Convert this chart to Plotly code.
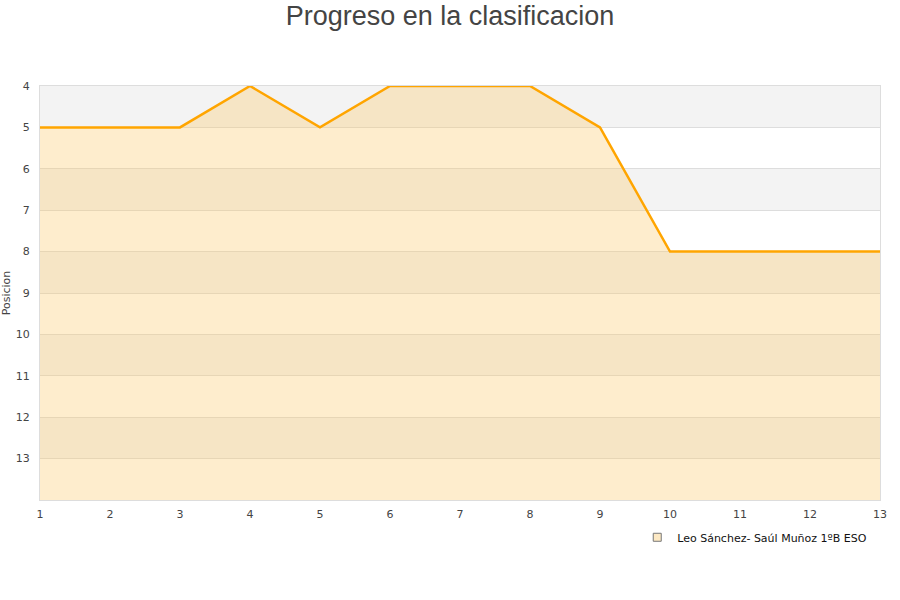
import plotly.graph_objects as go

# jornadas y posicion en la clasificacion
jornadas = [1, 2, 3, 4, 5, 6, 7, 8, 9, 10, 11, 12, 13]
posicion = [5, 5, 5, 4, 5, 4, 4, 4, 5, 8, 8, 8, 8]
fondo = [14] * len(jornadas)
equipo = "Leo Sánchez- Saúl Muñoz 1ºB ESO"
y_ticks = [4, 5, 6, 7, 8, 9, 10, 11, 12, 13]

fig = go.Figure()

# fondo con bandas alternas
shapes = []
for v in range(4, 14, 2):
    shapes.append(dict(type="rect", xref="paper", yref="y", x0=0, x1=1,
                       y0=v, y1=v + 1, fillcolor="#f3f3f3",
                       line=dict(width=0), layer="below"))

# base invisible para rellenar hasta abajo
fig.add_trace(go.Scatter(
    x=jornadas, y=fondo, mode="lines", line=dict(width=0),
    showlegend=False, hoverinfo="skip"))

fig.add_trace(go.Scatter(
    x=jornadas, y=posicion, mode="lines",
    line=dict(color="#ffa500", width=2.5),
    fill="tonexty", fillcolor="rgba(252,201,102,0.33)",
    showlegend=False, hoverinfo="x+y"))

# entrada de leyenda con cuadrado
fig.add_trace(go.Scatter(
    x=[None], y=[None], mode="markers", name=equipo,
    marker=dict(symbol="square", size=8, color="#fde9c4",
                line=dict(color="#777777", width=1))))

fig.update_layout(
    width=900, height=600,
    paper_bgcolor="white", plot_bgcolor="white",
    margin=dict(l=40, r=20, t=86, b=100, autoexpand=False),
    title=dict(text="Progreso en la clasificacion", x=0.5, xanchor="center",
               y=1 - 16 / 600, yanchor="middle",
               font=dict(family="Liberation Sans", size=27, color="#444444")),
    font=dict(family="DejaVu Sans", size=11, color="#444444"),
    shapes=shapes,
    showlegend=True,
    legend=dict(orientation="h", x=0.711, y=-0.055, xanchor="left",
                yanchor="top", font=dict(size=11, color="#111111"),
                bgcolor="rgba(0,0,0,0)", itemwidth=30),
    xaxis=dict(range=[1, 13], tickvals=jornadas, showgrid=False,
               zeroline=False, showline=True, linecolor="#dddddd",
               mirror=True, ticks="", fixedrange=True, automargin=False,
               ticklabelstandoff=4),
    yaxis=dict(range=[14, 4], tickvals=y_ticks, showgrid=True,
               gridcolor="#dddddd", zeroline=False, showline=True,
               linecolor="#dddddd", mirror=True, ticks="", automargin=False,
               ticklabelstandoff=7,
               title=dict(text="Posicion", font=dict(size=11), standoff=10)),
)

fig.write_html("out.html", config={"displayModeBar": False},
               post_script="document.body.style.margin='0';")
